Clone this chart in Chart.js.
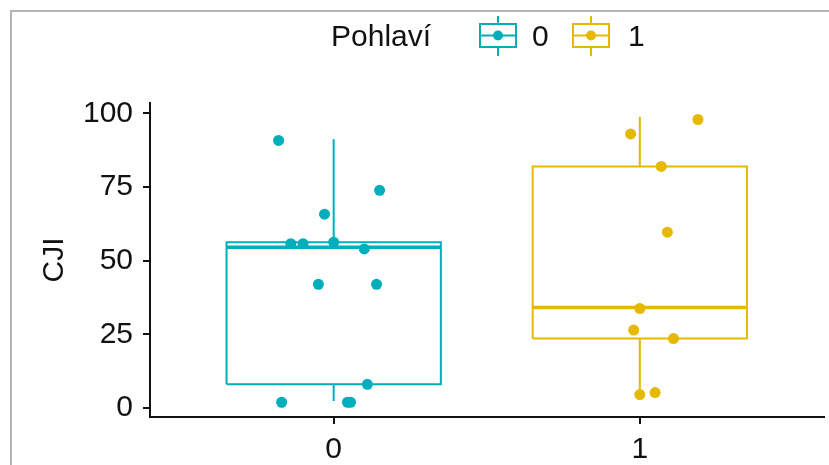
<!DOCTYPE html>
<html>
<head>
<meta charset="utf-8">
<script src="https://cdn.jsdelivr.net/npm/chart.js@4/dist/chart.umd.min.js"></script>
<style>
  html, body { margin: 0; padding: 0; background: #fff; overflow: hidden; }
  #wrap { position: relative; width: 829px; height: 465px; }
  #frame { position: absolute; left: 10px; top: 10px; width: 900px; height: 600px;
           border-left: 2px solid #b5b5b5; border-top: 2px solid #b5b5b5; }
  #chart { position: absolute; left: 0; top: 0; }
  .leg { position: absolute; font-family: "Liberation Sans", Arial, sans-serif; font-size: 30px;
         color: #111; line-height: 40px; top: 16px; }
  .leg svg { display: block; }
</style>
</head>
<body>
<div id="wrap">
  <div id="frame"></div>
  <canvas id="chart" width="829" height="465"></canvas>
  <div id="legend"></div>
</div>
<script>
// Skupiny (Pohlaví) a barvy
const groups = ['0', '1'];
const colors = ['#00AFBB', '#E7B800'];
const legendTitle = 'Pohlaví';
const yTitle = 'CJI';
const yTicks = [0, 25, 50, 75, 100];

// Jednotlivé hodnoty CJI (jitter body)
const values0 = [90.8, 73.9, 65.8, 55.8, 55.8, 56.3, 54.0, 42.0, 42.0, 8.1, 2.0, 2.0, 2.0];
const jitter0 = [-0.18, 0.15, -0.03, -0.14, -0.10, 0.0, 0.10, -0.05, 0.14, 0.11, -0.17, 0.045, 0.055];
const values1 = [97.9, 93.0, 82.0, 59.7, 33.8, 26.5, 23.6, 4.6, 5.3];
const jitter1 = [0.19, -0.03, 0.07, 0.09, 0.0, -0.02, 0.11, 0.0, 0.05];

// Boxplot: [min, Q1, medián, Q3, max]
const box0 = [2.4, 8.1, 54.6, 56.3, 91.2];
const box1 = [4.6, 23.6, 34.1, 82.0, 98.8];

const allValues = [values0, values1];
const allJitter = [jitter0, jitter1];
const allBoxes = [box0, box1];
const halfWidth = 0.35;

const datasets = [];
allBoxes.forEach((b, g) => {
    const [mn, q1, med, q3, mx] = b;
    const line = (data, width) => ({
        type: 'scatter', data, showLine: true, borderColor: colors[g], borderWidth: width,
        pointRadius: 0, fill: false, tension: 0, order: 2, borderJoinStyle: 'miter'
    });
    datasets.push(line([
        {x: g - halfWidth, y: q1}, {x: g + halfWidth, y: q1},
        {x: g + halfWidth, y: q3}, {x: g - halfWidth, y: q3}, {x: g - halfWidth, y: q1}
    ], 2));
    datasets.push(line([{x: g - halfWidth, y: med}, {x: g + halfWidth, y: med}], 3.5));
    datasets.push(line([{x: g, y: q3}, {x: g, y: mx}], 2));
    datasets.push(line([{x: g, y: mn}, {x: g, y: q1}], 2));
});
allValues.forEach((vals, g) => {
    datasets.push({
        type: 'scatter',
        data: vals.map((v, i) => ({x: g + allJitter[g][i], y: v})),
        backgroundColor: colors[g], borderColor: colors[g],
        pointRadius: 5.5, pointBorderWidth: 0, order: 0
    });
});

const font = {family: '"Liberation Sans", Arial, sans-serif', size: 30};

new Chart(document.getElementById('chart'), {
    type: 'scatter',
    data: {datasets},
    options: {
        responsive: false,
        animation: false,
        devicePixelRatio: 1,
        layout: {padding: {top: 103, right: 3, left: 0, bottom: 0}},
        plugins: {legend: {display: false}, tooltip: {enabled: false}},
        scales: {
            x: {
                type: 'linear', min: -0.6, max: 1.6,
                afterBuildTicks: s => { s.ticks = groups.map((_, i) => ({value: i})); },
                afterFit: s => { s.height = 48; },
                ticks: {callback: v => groups[v], font, color: '#111', padding: 8, maxRotation: 0},
                grid: {drawOnChartArea: false, color: '#111', tickLength: 7, lineWidth: 2},
                border: {display: true, color: '#111', width: 2}
            },
            y: {
                min: -3, max: 103.5,
                afterBuildTicks: s => { s.ticks = yTicks.map(v => ({value: v})); },
                afterFit: s => { s.width = 150; },
                ticks: {font, color: '#111', padding: 10},
                grid: {drawOnChartArea: false, color: '#111', tickLength: 7, lineWidth: 2},
                border: {display: true, color: '#111', width: 2},
                title: {display: true, text: yTitle, font, color: '#111', padding: {top: 37, bottom: 0}}
            }
        }
    }
});

// Legenda
const legend = document.getElementById('legend');
function addSpan(html, left) {
    const el = document.createElement('div');
    el.className = 'leg';
    el.style.left = left + 'px';
    el.innerHTML = html;
    legend.appendChild(el);
}
function icon(c) {
    return `<svg width="40" height="40" viewBox="0 0 40 40">
      <line x1="20" y1="0" x2="20" y2="8" stroke="${c}" stroke-width="2"/>
      <line x1="20" y1="31" x2="20" y2="40" stroke="${c}" stroke-width="2"/>
      <rect x="2" y="8" width="36" height="23" fill="#fff" stroke="${c}" stroke-width="2"/>
      <line x1="2" y1="19.5" x2="38" y2="19.5" stroke="${c}" stroke-width="2"/>
      <circle cx="20" cy="19.5" r="5" fill="${c}"/>
    </svg>`;
}
addSpan(legendTitle, 331);
const iconLeft = [478, 571];
const labelLeft = [532, 628];
groups.forEach((g, i) => {
    addSpan(icon(colors[i]), iconLeft[i]);
    addSpan(g, labelLeft[i]);
});
</script>
</body>
</html>
